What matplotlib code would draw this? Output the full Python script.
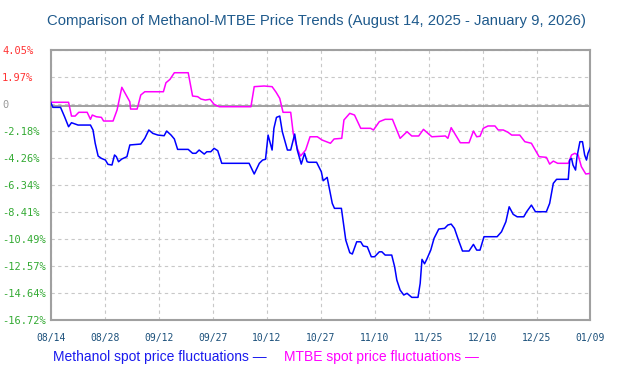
import numpy as np
import matplotlib
matplotlib.use("Agg")
import matplotlib.pyplot as plt

# days since 08/14 (chart spaces the ticks evenly over 148 days)
tick_labels_x = ["08/14", "08/28", "09/12", "09/27", "10/12", "10/27",
                 "11/10", "11/25", "12/10", "12/25", "01/09"]
tick_vals_y = [4.05, 1.97, -0.10, -2.18, -4.26, -6.34, -8.41, -10.49, -12.57, -14.64, -16.72]
tick_labels_y = ["4.05%", "1.97%", "0", "-2.18%", "-4.26%", "-6.34%", "-8.41%",
                 "-10.49%", "-12.57%", "-14.64%", "-16.72%"]

methanol_day = [0, 0.6, 2.7, 3.8, 4.9, 5.7, 7.5, 10.9, 11.6, 12.2, 13.0, 13.9, 15.0, 15.7,
                16.8, 17.5, 18.0, 18.6, 19.5, 20.9, 21.7, 24.7, 25.8, 26.9, 28.0, 29.4,
                31.1, 31.8, 33.0, 33.9, 34.8, 37.7, 38.9, 39.8, 40.7, 42.1, 42.8, 43.9,
                44.8, 45.8, 46.9, 54.4, 55.8, 57.2, 58.1, 58.9, 59.6, 60.1, 60.7, 61.2,
                61.9, 62.8, 63.5, 64.9, 65.8, 66.9, 67.6, 68.7, 69.6, 70.3, 70.8, 72.9,
                74.2, 74.7, 75.8, 77.2, 77.8, 79.7, 80.9, 82.0, 82.7, 83.9, 85.0, 85.7,
                86.8, 87.9, 88.8, 90.1, 90.8, 91.7, 93.5, 94.3, 94.9, 95.8, 96.8, 97.7,
                99.0, 100.7, 101.3, 101.8, 102.5, 103.1, 104.2, 105.1, 106.4, 108.0,
                108.9, 109.8, 110.7, 111.8, 112.9, 114.7, 115.9, 116.8, 117.7, 118.8,
                122.4, 123.6, 124.8, 125.7, 126.8, 127.9, 129.7, 130.5, 131.8, 132.9,
                135.9, 136.8, 137.8, 138.7, 141.9, 142.3, 142.8, 143.2, 143.9, 144.3,
                145.1, 145.8, 146.4, 146.9, 147.3, 148.0]
methanol_chg = [0.00, -0.38, -0.38, -1.10, -1.87, -1.56, -1.74, -1.74, -2.12, -3.14, -4.12,
                -4.30, -4.43, -4.76, -4.81, -4.04, -4.17, -4.56, -4.35, -4.17, -3.27, -3.20,
                -2.76, -2.12, -2.38, -2.51, -2.56, -2.20, -2.51, -2.81, -3.61, -3.61, -3.91,
                -3.91, -3.66, -3.97, -3.79, -3.79, -3.53, -3.71, -4.68, -4.68, -5.50, -4.68,
                -4.43, -4.37, -2.51, -3.02, -3.66, -1.99, -1.15, -1.05, -2.25, -3.66, -3.66,
                -2.43, -3.66, -4.74, -3.91, -4.56, -4.60, -4.60, -5.33, -6.02, -5.76, -7.76,
                -8.14, -8.14, -10.58, -11.55, -11.65, -10.71, -10.71, -11.04, -11.09, -11.86,
                -11.86, -11.48, -11.48, -11.73, -11.73, -12.63, -13.65, -14.42, -14.80,
                -14.67, -14.98, -14.98, -13.91, -12.06, -12.40, -12.06, -11.35, -10.45,
                -9.73, -9.68, -9.42, -9.35, -9.68, -10.58, -11.42, -11.42, -10.91, -11.35,
                -11.35, -10.32, -10.32, -9.94, -9.17, -8.02, -8.60, -8.79, -8.79, -8.40,
                -7.89, -8.40, -8.40, -7.76, -6.22, -5.91, -5.91, -4.43, -4.30, -4.81, -5.20,
                -4.17, -3.02, -3.02, -4.04, -4.43, -3.91, -3.45]

mtbe_day = [0, 4.9, 5.7, 6.7, 7.7, 10.0, 10.9, 11.4, 12.5, 13.9, 14.5, 17.1, 18.2, 19.5,
            21.7, 21.9, 23.7, 24.7, 25.8, 30.9, 31.6, 32.7, 33.9, 37.7, 38.9, 40.3, 41.2,
            42.4, 43.7, 44.8, 46.2, 54.9, 55.8, 58.5, 60.7, 61.8, 62.8, 63.7, 65.8, 66.5,
            67.6, 68.5, 69.9, 71.1, 73.1, 74.4, 76.7, 77.7, 79.8, 80.4, 82.0, 83.3, 85.0,
            87.7, 88.5, 90.1, 91.7, 93.7, 95.8, 97.7, 99.0, 100.9, 102.2, 104.5, 108.2,
            108.9, 109.8, 112.3, 114.7, 115.9, 116.8, 117.7, 118.6, 119.9, 121.8, 122.7,
            124.1, 125.4, 126.4, 128.6, 130.0, 131.8, 133.9, 135.9, 136.8, 137.8, 139.0,
            141.9, 142.8, 143.7, 144.6, 145.5, 146.7, 148.0]
mtbe_chg = [0.01, 0.01, -1.05, -1.05, -0.76, -0.76, -1.30, -0.97, -1.10, -1.15, -1.43, -1.43,
            -0.58, 1.16, 0.05, -0.51, -0.51, 0.57, 0.82, 0.82, 1.51, 1.77, 2.28, 2.28, 0.49,
            0.44, 0.26, 0.18, 0.24, -0.15, -0.33, -0.33, 1.21, 1.26, 1.21, 0.78, 0.31, -0.76,
            -0.76, -2.38, -3.53, -4.12, -3.66, -2.64, -2.64, -2.89, -3.14, -2.81, -2.76,
            -1.35, -0.84, -0.97, -1.99, -1.99, -2.12, -1.48, -1.30, -1.30, -2.76, -2.25,
            -2.58, -2.58, -2.07, -2.64, -2.58, -2.76, -1.94, -3.10, -3.10, -2.20, -2.64,
            -2.60, -1.99, -1.81, -1.81, -2.12, -2.12, -2.30, -2.51, -2.51, -3.02, -3.14,
            -4.17, -4.22, -4.74, -4.51, -4.68, -4.68, -4.04, -3.91, -4.04, -4.94, -5.50, -5.45]

fig = plt.figure(figsize=(6.21, 3.74), dpi=100)
ax = fig.add_axes([50.7 / 621, 1 - 320 / 374, 539.8 / 621, 270.3 / 374])

ax.plot(methanol_day, methanol_chg, color="#0000ff", lw=1.1, zorder=4)
ax.plot(mtbe_day, mtbe_chg, color="#ff00ff", lw=1.1, zorder=3)
ax.axhline(-0.3, color="#999999", lw=1.3, zorder=2)

ax.set_xlim(0, 148)
ax.set_ylim(-16.72, 4.05)
ax.set_xticks(np.linspace(0, 148, 11))
ax.set_xticklabels(tick_labels_x)
ax.set_yticks(tick_vals_y)
ax.set_yticklabels(tick_labels_y)
ax.grid(True, color="#c8c8c8", ls=(0, (3, 3)), lw=0.8, zorder=1)

for s in ax.spines.values():
    s.set_color("#a0a0a0")
    s.set_linewidth(1.5)

ax.tick_params(axis="both", length=0)
ax.tick_params(axis="y", pad=35)
ax.tick_params(axis="x", pad=9)
for lab, v in zip(ax.get_yticklabels(), tick_vals_y):
    lab.set_fontfamily("DejaVu Sans Mono")
    lab.set_fontsize(7.5)
    lab.set_horizontalalignment("left")
    if v > 0:
        lab.set_color("#ff3333")
    elif v > -1:
        lab.set_color("#999999")
    else:
        lab.set_color("#33aa33")
for lab in ax.get_xticklabels():
    lab.set_fontfamily("DejaVu Sans Mono")
    lab.set_fontsize(7)
    lab.set_color("#1a4f7a")

fig.text(316 / 621, 1 - 21 / 374, "Comparison of Methanol-MTBE Price Trends (August 14, 2025 - January 9, 2026)",
         ha="center", va="center", fontsize=10.7, color="#1f5a8c", family="Liberation Sans")
fig.text(53 / 621, 1 - 357 / 374, "Methanol spot price fluctuations \u2014",
         ha="left", va="center", fontsize=10, color="#1a1aee", family="Liberation Sans")
fig.text(284 / 621, 1 - 357 / 374, "MTBE spot price fluctuations \u2014",
         ha="left", va="center", fontsize=10, color="#ff00ff", family="Liberation Sans")

fig.savefig("out.png", dpi=100)
